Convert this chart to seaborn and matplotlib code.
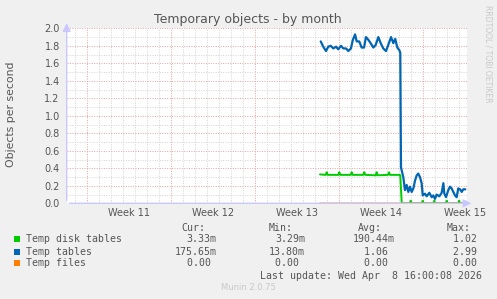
import numpy as np
import pandas as pd
import matplotlib
matplotlib.use("Agg")
import matplotlib.pyplot as plt
import seaborn as sns
from matplotlib.patches import Rectangle

# ---------------- data ----------------
title = "Temporary objects - by month"
ylabel = "Objects per second"
week_labels = ["Week 11", "Week 12", "Week 13", "Week 14", "Week 15"]
week_starts = [1.667, 8.667, 15.667, 22.667, 29.667]   # days from left edge
x_max = 33.36
y_max = 2.0

tables_days = [21.17, 21.38, 21.61, 21.80, 22.00, 22.22, 22.44, 22.63, 22.86, 23.05,
               23.28, 23.47, 23.69, 23.83, 24.03, 24.17, 24.38, 24.58, 24.78, 24.94,
               25.13, 25.33, 25.55, 25.75, 25.97, 26.17, 26.38, 26.61, 26.80, 27.03,
               27.22, 27.38, 27.55, 27.72, 27.80, 27.86, 28.05, 28.19, 28.33, 28.47,
               28.61, 28.75, 28.89, 29.03, 29.17, 29.30, 29.44, 29.58, 29.67, 29.86,
               30.00, 30.22, 30.42, 30.55, 30.69, 30.83, 31.05, 31.25, 31.39, 31.47,
               31.61, 31.80, 31.94, 32.08, 32.22, 32.36, 32.50, 32.63, 32.78, 32.92,
               33.05, 33.22]
tables_vals = [1.85, 1.79, 1.74, 1.79, 1.80, 1.77, 1.79, 1.76, 1.80, 1.77,
               1.77, 1.74, 1.77, 1.86, 1.93, 1.85, 1.85, 1.78, 1.78, 1.90,
               1.87, 1.83, 1.78, 1.81, 1.90, 1.83, 1.77, 1.74, 1.81, 1.90,
               1.83, 1.88, 1.78, 1.75, 1.72, 0.41, 0.30, 0.15, 0.21, 0.13,
               0.19, 0.13, 0.17, 0.26, 0.32, 0.34, 0.30, 0.23, 0.09, 0.11,
               0.08, 0.12, 0.07, 0.09, 0.05, 0.10, 0.08, 0.12, 0.23, 0.11,
               0.07, 0.15, 0.19, 0.17, 0.13, 0.09, 0.07, 0.17, 0.16, 0.13,
               0.16, 0.16]

disk_days = [21.11, 21.59, 21.67, 21.75, 22.64, 22.72, 22.80, 23.67, 23.75, 23.83,
             24.72, 24.80, 24.88, 25.75, 25.83, 25.91, 26.78, 26.86, 26.94, 27.75,
             27.80, 27.92, 28.59, 28.67, 28.75, 29.59, 29.67, 29.75, 30.55, 30.63,
             30.71, 31.59, 31.67, 31.75, 32.62, 32.70, 32.78, 33.22]
disk_vals = [0.33, 0.325, 0.355, 0.325, 0.325, 0.355, 0.325, 0.325, 0.355, 0.325,
             0.325, 0.355, 0.325, 0.32, 0.355, 0.32, 0.325, 0.355, 0.325, 0.325,
             0.32, 0.0, 0.0, 0.03, 0.0, 0.0, 0.03, 0.0, 0.0, 0.03,
             0.0, 0.0, 0.03, 0.0, 0.0, 0.03, 0.0, 0.0]

files_days = [21.11, 33.22]
files_vals = [0.0, 0.0]

series_names = ["Temp disk tables", "Temp tables", "Temp files"]
series_colors = ["#00CC00", "#0066B3", "#FF8000"]
cur_vals = ["3.33m", "175.65m", "0.00"]
min_vals = ["3.29m", "13.80m", "0.00"]
avg_vals = ["190.44m", "1.06", "0.00"]
max_vals = ["1.02", "2.99", "0.00"]
last_update = "Last update: Wed Apr  8 16:00:08 2026"
footer = "Munin 2.0.75"
side_text = "RRDTOOL / TOBI OETIKER"

# ---------------- figure ----------------
W, H = 497, 299
def fx(px): return px / W
def fy(py): return 1 - py / H

sns.set_theme(style="white")
plt.rcParams["font.family"] = ["DejaVu Sans"]
TXT = "#555555"

fig = plt.figure(figsize=(W / 100, H / 100), dpi=100, facecolor="#F0F0F0")
L, R, T, B = 66.7, 467.0, 28.3, 203.3
ax = fig.add_axes([fx(L), fy(B), fx(R) - fx(L), fy(T) - fy(B)])
ax.set_facecolor("white")

frames = [
    pd.DataFrame({"day": disk_days, "val": disk_vals}),
    pd.DataFrame({"day": tables_days, "val": tables_vals}),
    pd.DataFrame({"day": files_days, "val": files_vals}),
]
widths = [1.4, 1.6, 1.1]
alphas = [1.0, 1.0, 0.55]
for df, c, lw, a in zip(frames, series_colors, widths, alphas):
    sns.lineplot(data=df, x="day", y="val", ax=ax, color=c, lw=lw, alpha=a,
                 estimator=None, sort=False, zorder=3)

ax.set_xlim(0, x_max)
ax.set_ylim(0, y_max)
ax.set_xlabel("")
ax.set_ylabel("")

# grid
ax.set_xticks(week_starts)
minor_days = np.arange(week_starts[0] - 1, x_max, 1.0)
ax.set_xticks(minor_days, minor=True)
ax.set_xticklabels([])
ax.set_yticks(np.arange(0, y_max + 0.001, 0.2))
ax.set_yticks(np.arange(0, y_max + 0.001, 0.1), minor=True)
ax.set_yticklabels([f"{v:.1f}" for v in np.arange(0, y_max + 0.001, 0.2)])
ax.grid(which="minor", color="#D2D2D2", ls=(0, (1, 1.5)), lw=0.7, zorder=1)
ax.grid(which="major", color="#EBA0A0", ls=(0, (1, 1.5)), lw=0.7, zorder=2)
ax.set_axisbelow(True)

ax.tick_params(axis="x", which="major", length=3, color="#E08080", direction="out", width=0.8)
ax.tick_params(axis="x", which="minor", length=2, color="#888888", direction="out", width=0.6)
ax.tick_params(axis="y", which="major", length=2, color="#C8C8FF", labelsize=7,
               labelcolor=TXT, pad=3)
ax.tick_params(axis="y", which="minor", length=0)

for s in ax.spines.values():
    s.set_visible(False)

# axis lines with arrows
ax.annotate("", xy=(0, 1.045), xytext=(0, 0), xycoords="axes fraction",
            arrowprops=dict(arrowstyle="-|>,head_length=0.4,head_width=0.2",
                            color="#C8C8FF", lw=1), annotation_clip=False)
ax.annotate("", xy=(1.018, 0), xytext=(0, 0), xycoords="axes fraction",
            arrowprops=dict(arrowstyle="-|>,head_length=0.4,head_width=0.2",
                            color="#C8C8FF", lw=1), annotation_clip=False)

# week labels at the middle of each week
for ws, lab in zip(week_starts, week_labels):
    ax.text(ws + 3.5, -9.4 / (B - T), lab, transform=ax.get_xaxis_transform(),
            ha="center", va="center", fontsize=7, color=TXT)

# titles
fig.text(fx(247.7), fy(19.3), title, ha="center", va="center", fontsize=9, color=TXT)
fig.text(fx(10.7), fy(114), ylabel, rotation=90, ha="center", va="center",
         fontsize=7.8, color=TXT)
fig.text(fx(488), fy(5), side_text, rotation=270, ha="center", va="top",
         fontsize=5.5, color="#C8C8C8")

# legend
mono = "DejaVu Sans Mono"
fs = 7.1
header_y = 227.7
row_ys = [239.3, 251.7, 263.3]
for x0, h in zip([181.7, 269.0, 358.0, 446.7], ["Cur:", "Min:", "Avg:", "Max:"]):
    fig.text(fx(x0), fy(header_y), h, family=mono, fontsize=fs, color=TXT,
             ha="left", va="center")

def fmt(v):
    return v if v.endswith("m") else v + " "

col_right = [216.7, 305.0, 394.3, 482.6]
for i, name in enumerate(series_names):
    y = row_ys[i]
    fig.add_artist(Rectangle((fx(14), fy(y + 3)), 6 / W, 6 / H,
                             transform=fig.transFigure, facecolor=series_colors[i],
                             edgecolor="none"))
    fig.text(fx(26), fy(y), name, family=mono, fontsize=fs, color=TXT,
             ha="left", va="center")
    for xr, vals in zip(col_right, [cur_vals, min_vals, avg_vals, max_vals]):
        fig.text(fx(xr), fy(y), fmt(vals[i]), family=mono, fontsize=fs, color=TXT,
                 ha="right", va="center")

fig.text(fx(482.3), fy(275.7), last_update, family=mono, fontsize=fs, color=TXT,
         ha="right", va="center")
fig.text(fx(248), fy(287.7), footer, fontsize=6, color="#C8C8C8",
         ha="center", va="center")

fig.savefig("out.png", dpi=100, facecolor=fig.get_facecolor())
